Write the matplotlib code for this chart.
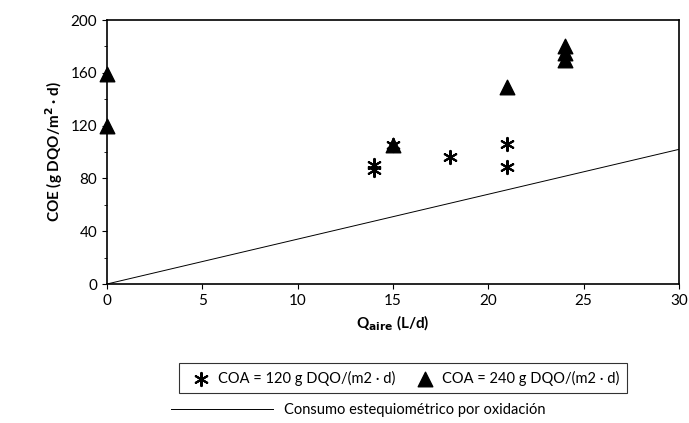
import matplotlib
matplotlib.use("Agg")
import matplotlib.pyplot as plt
import numpy as np
from matplotlib.ticker import MultipleLocator

plt.rcParams['font.family'] = ['Lato', 'DejaVu Sans']

ast_x = [14, 14, 15, 18, 21, 21]
ast_y = [86, 90, 105, 96, 89, 106]
tri_x = [0, 0, 15, 21, 24, 24, 24]
tri_y = [120, 159, 105, 149, 170, 175, 180]
line_x = [0, 30]
line_y = [0, 102]

fig = plt.figure(figsize=(6.89, 4.23), dpi=100)
ax = fig.add_axes([107/689, 1-284/423, 572/689, 264/423])
ax.plot(line_x, line_y, color='black', lw=0.7, label='Consumo estequiométrico por oxidación')
h1 = ax.scatter(ast_x, ast_y, marker=(6, 2, 0), s=90, color='black', lw=1.5,
                label='COA = 120 g DQO/(m2 · d)', zorder=3, clip_on=False)
h2 = ax.scatter(tri_x, tri_y, marker='^', s=110, color='black',
                label='COA = 240 g DQO/(m2 · d)', zorder=3, clip_on=False)
ax.set_xlim(0, 30)
ax.set_ylim(0, 200)
ax.xaxis.set_major_locator(MultipleLocator(5))
ax.yaxis.set_major_locator(MultipleLocator(40))
ax.yaxis.set_minor_locator(MultipleLocator(20))
ax.tick_params(direction='out', labelsize=11)
ax.tick_params(which='minor', direction='out')
for s in ax.spines.values():
    s.set_linewidth(1.2)
ax.set_xlabel(r'Q$_{\mathbf{aire}}$ (L/d)', fontsize=11, fontweight='bold')
ax.set_ylabel(r'COE (g DQO/m$^{\mathbf{2}}$ · d)', fontsize=11, fontweight='bold')

leg1 = fig.legend(handles=[h1, h2], loc='center', bbox_to_anchor=(0.585, 1-378/423),
                  ncol=2, frameon=True, fancybox=False, edgecolor='black',
                  fontsize=10.5, handletextpad=0.2, columnspacing=1.0, borderpad=0.5)
leg1.get_frame().set_linewidth(0.8)
line_handle = ax.get_lines()[0]
fig.legend(handles=[line_handle], loc='center', bbox_to_anchor=(0.52, 1-410/423),
           frameon=False, fontsize=10.5, handlelength=7)
fig.savefig('out.png', dpi=100)
